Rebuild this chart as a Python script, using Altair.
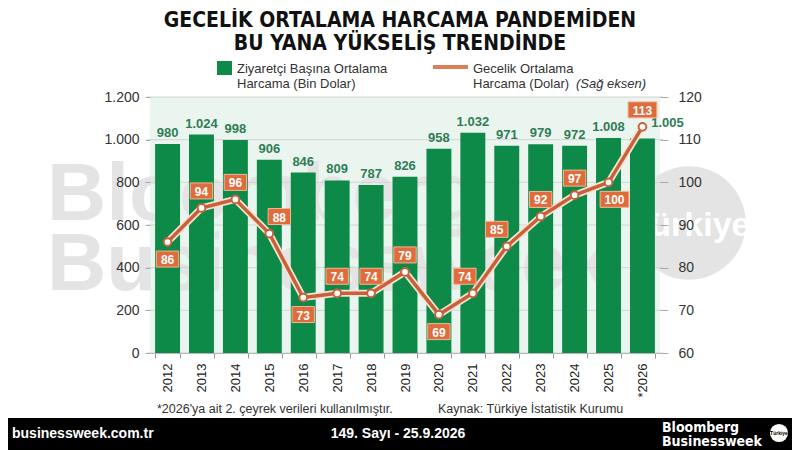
import altair as alt
import pandas as pd

# ---------------- data ----------------
years = ["2012", "2013", "2014", "2015", "2016", "2017", "2018", "2019",
         "2020", "2021", "2022", "2023", "2024", "2025", "*2026"]
visitor_spend = [980, 1024, 998, 906, 846, 809, 787, 826, 958, 1032, 971, 979, 972, 1008, 1005]
night_spend = [86, 94, 96, 88, 73, 74, 74, 79, 69, 74, 85, 92, 97, 100, 113]
left_ticks = [0, 200, 400, 600, 800, 1000, 1200]
right_ticks = [60, 70, 80, 90, 100, 110, 120]

# label placement (style only)
label_side = ["below", "above", "above", "above", "below", "above", "above", "above",
              "below", "above", "above", "above", "above", "below", "above"]
label_shift = [0, 0, 0, 10, 0, 0, 0, 0, 0, -8, -10, 0, 0, 6, 0]

title_lines = ["GECELİK ORTALAMA HARCAMA PANDEMİDEN", "BU YANA YÜKSELİŞ TRENDİNDE"]
legend_bar = ["Ziyaretçi Başına Ortalama", "Harcama (Bin Dolar)"]
legend_line = ["Gecelik Ortalama", "Harcama (Dolar)", "(Sağ eksen)"]
footnote = "*2026'ya ait 2. çeyrek verileri kullanılmıştır."
source = "Kaynak: Türkiye İstatistik Kurumu"
footer_left = "businessweek.com.tr"
footer_mid = "149. Sayı - 25.9.2026"

df = pd.DataFrame({"year": years, "visitor": visitor_spend, "night": night_spend,
                   "side": label_side, "shift": label_shift})
df["nd"] = df["night"].astype(str).str.len().astype(str)

FONT = "Liberation Sans, Arial, sans-serif"
TFONT = "Liberation Sans Narrow, DejaVu Sans Condensed, sans-serif"
GREEN = "#0d8a47"
GREEN_TXT = "#2f7d56"
ORANGE = "#c8613a"
BOX = "#e06b3b"

x_enc = alt.X("year:N", sort=years,
              scale=alt.Scale(paddingInner=0.265, paddingOuter=0.15),
              axis=alt.Axis(title=None, labelAngle=270, labelFontSize=13, labelColor="#222",
                            labelFont=FONT, labelPadding=5, tickBand="extent", tickSize=5,
                            tickColor="#999", domainColor="#999", grid=False))

yL_axis = alt.Axis(title=None, values=left_ticks, grid=False, zindex=1,
                   labelExpr="replace(format(datum.value, ','), ',', '.')",
                   labelFontSize=14, labelColor="#333", labelFont=FONT, labelPadding=6,
                   tickSize=5, tickColor="#aaa", domain=False)
yL = alt.Y("visitor:Q", scale=alt.Scale(domain=[0, 1200], nice=False), axis=yL_axis)

yR_axis = alt.Axis(title=None, orient="right", values=right_ticks, grid=False, zindex=1,
                   labelFontSize=14, labelColor="#333", labelFont=FONT, labelPadding=10,
                   tickSize=8, tickColor="#aaa", domain=False)
yR = alt.Y("night:Q", scale=alt.Scale(domain=[60, 120], nice=False), axis=yR_axis)

one = pd.DataFrame({"t": [""]})


def txt(text, x, y, size=13, weight="normal", color="#333", align="left", font=FONT, style="normal"):
    return alt.Chart(pd.DataFrame({"t": [text]})).mark_text(
        fontSize=size, fontWeight=weight, color=color, align=align, baseline="alphabetic",
        font=font, fontStyle=style
    ).encode(x=alt.value(x), y=alt.value(y), text="t:N")


# ---------------- watermark ----------------
wm = [
    alt.Chart(one).mark_circle(size=12868, color="#e4e4e4", opacity=1).encode(
        x=alt.value(539), y=alt.value(126)),
    txt("Bloomberg", -103, 123, size=82, weight="bold", color="#e4e4e4"),
    txt("Businessweek", -103, 193, size=82, weight="bold", color="#e4e4e4"),
    txt("Türkiye", 540, 139, size=34, weight="bold", color="#ffffff", align="center"),
]

grid = alt.Chart(pd.DataFrame({"g": left_ticks})).mark_rule(color="#d4d4d4", strokeWidth=1).encode(
    y=alt.Y("g:Q", scale=alt.Scale(domain=[0, 1200], nice=False), axis=yL_axis),
    x=alt.value(-3), x2=alt.value(513))

bars = alt.Chart(df).mark_bar(color=GREEN).encode(x=x_enc, y=yL)

lab_expr = "replace(format(datum.visitor, ','), ',', '.')"
bar_txt = alt.Chart(df).transform_filter("datum.year != '*2026'").transform_calculate(
    lab=lab_expr).mark_text(fontSize=13, fontWeight="bold", color=GREEN_TXT, font=FONT,
                            baseline="middle", dy=-11).encode(x=x_enc, y=yL, text="lab:N")
bar_txt_last = alt.Chart(df).transform_filter("datum.year == '*2026'").transform_calculate(
    lab=lab_expr).mark_text(fontSize=13, fontWeight="bold", color=GREEN_TXT, font=FONT,
                            baseline="middle", dy=-16, dx=25).encode(x=x_enc, y=yL, text="lab:N")

left_group = alt.layer(*wm, grid, bars, bar_txt, bar_txt_last)

# ---------------- line ----------------
halo = alt.Chart(df).mark_line(color="#f7e2d4", strokeWidth=7).encode(x=x_enc, y=yR)
line = alt.Chart(df).mark_line(color=ORANGE, strokeWidth=3.5).encode(x=x_enc, y=yR)
pts = alt.Chart(df).mark_circle(color="white", stroke=ORANGE, strokeWidth=2, size=60, opacity=1).encode(
    x=x_enc, y=yR)

p2 = "M-1.4,-1L1.4,-1L1.4,1L-1.4,1Z"
p3 = "M-1.8,-1L1.8,-1L1.8,1L-1.8,1Z"
label_layers = []
for (side, shift), sub in df.groupby(["side", "shift"]):
    yo = -17 if side == "above" else 17
    box = alt.Chart(sub).mark_point(filled=True, color=BOX, opacity=1, stroke="#f1b89b",
                                    strokeWidth=1, xOffset=int(shift), yOffset=yo).encode(
        x=x_enc, y=yR,
        shape=alt.Shape("nd:N", scale=alt.Scale(domain=["2", "3"], range=[p2, p3]), legend=None),
        size=alt.value(256))
    t = alt.Chart(sub).mark_text(color="white", fontWeight="bold", fontSize=12, font=FONT,
                                 baseline="middle", xOffset=int(shift), yOffset=yo + 1).encode(
        x=x_enc, y=yR, text="night:N")
    label_layers += [box, t]

right_group = alt.layer(halo, line, pts, *label_layers)

# ---------------- annotations ----------------
ann = [
    txt(title_lines[0], 250, -70, size=21, weight="bold", color="#111", align="center", font=TFONT),
    txt(title_lines[1], 250, -47, size=21, weight="bold", color="#111", align="center", font=TFONT),
    alt.Chart(one).mark_rect(color=GREEN).encode(x=alt.value(67), x2=alt.value(82),
                                                 y=alt.value(-36), y2=alt.value(-22)),
    txt(legend_bar[0], 87, -24, size=13),
    txt(legend_bar[1], 87, -9, size=13),
    alt.Chart(one).mark_rule(color="#d9805a", strokeWidth=4).encode(
        x=alt.value(283), x2=alt.value(318), y=alt.value(-30)),
    txt(legend_line[0], 323, -24, size=13),
    txt(legend_line[1], 323, -9, size=13),
    txt(legend_line[2], 426, -9, size=13, style="italic"),
    txt(footnote, 7, 316, size=12.5),
    txt(source, 288, 316, size=12.5),
    alt.Chart(one).mark_rect(color="#000").encode(x=alt.value(-150), x2=alt.value(660),
                                                  y=alt.value(321), y2=alt.value(365)),
    txt(footer_left, -138, 341, size=14, weight="bold", color="white"),
    txt(footer_mid, 248, 341, size=14, weight="bold", color="white", align="center"),
    txt("Bloomberg", 512, 335, size=14, weight="bold", color="white", font=TFONT),
    txt("Businessweek", 512, 349, size=14, weight="bold", color="white", font=TFONT),
    alt.Chart(one).mark_circle(size=330, color="white", opacity=1).encode(
        x=alt.value(629), y=alt.value(336)),
    txt("Türkiye", 629, 338, size=5, weight="bold", color="#000", align="center"),
]

chart = alt.layer(left_group, right_group, *ann).resolve_scale(y="independent").properties(
    width=510, height=256,
    autosize=alt.AutoSizeParams(type="none"),
    padding={"left": 142, "top": 89, "right": 132, "bottom": 97},
    background="white",
).configure_view(stroke=None, fill="#ebf5ef")

chart.save("out.html", embed_options={"renderer": "svg", "actions": False})
